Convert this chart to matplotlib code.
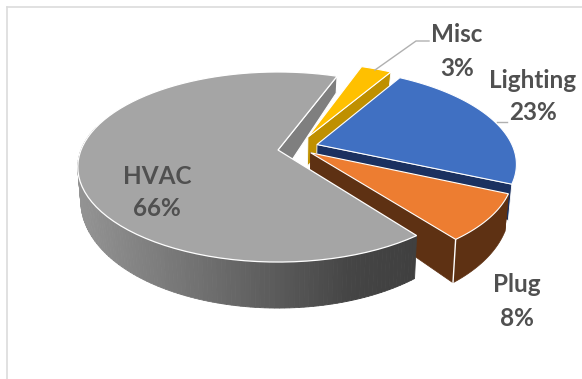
import numpy as np
import matplotlib
matplotlib.use("Agg")
import matplotlib.pyplot as plt
from matplotlib.patches import Polygon

labels = ["HVAC", "Plug", "Lighting", "Misc"]
shares = [66, 8, 23, 3]

# pie geometry, in pixels
x0, y0 = 278.0, 150.0
ax_u, ax_v = 197.0, 92.0
tilt = 0.179
start_angle = 69.5
explode = [(0.0, 0.0), (0.165, -0.03), (0.2, 0.06), (0.156, 0.145)]

top_colors = ["#a5a5a5", "#ed7d31", "#4070c2", "#ffc000"]
side_colors = ["#7f7f7f", "#5e3113", "#1b3160", "#bf9000"]
text_color = "#505050"
label_pos = [(157, 176), (517, 285), (533, 80), (457, 35)]
line_gap = 33

plt.rcParams["font.family"] = ["Lato", "DejaVu Sans"]

def project(u, v):
    w = 1 + tilt * v
    return x0 + ax_u * u / w, y0 - ax_v * v / w

def drop(x, y, v):
    # extruded copy of a top point, deeper towards the viewer
    return x0 + (x - x0) * 0.985, y + 31 - 15 * v

def arc_uv(a0, a1, off, n=80):
    t = np.radians(np.linspace(a0, a1, n))
    return np.cos(t) + off[0], np.sin(t) + off[1]

def top_outline(a0, a1, off):
    u, v = arc_uv(a0, a1, off)
    x, y = project(np.r_[off[0], u], np.r_[off[1], v])
    return np.column_stack([x, y])

def edge_face(a, off):
    # flat cut face running from the centre of a slice to its rim
    t = np.radians(a)
    u = np.array([off[0], np.cos(t) + off[0]])
    v = np.array([off[1], np.sin(t) + off[1]])
    x, y = project(u, v)
    bx, by = drop(x, y, v)
    return np.column_stack([np.r_[x, bx[::-1]], np.r_[y, by[::-1]]])

def rim_face(a0, a1, off):
    u, v = arc_uv(a0, a1, off)
    x, y = project(u, v)
    bx, by = drop(x, y, v)
    return np.column_stack([np.r_[x, bx[::-1]], np.r_[y, by[::-1]]])

fig = plt.figure(figsize=(5.82, 3.79), dpi=100)
ax = fig.add_axes([0, 0, 1, 1])
ax.set_xlim(0, 582)
ax.set_ylim(379, 0)
ax.axis("off")

# chart frame
ax.plot([6.5, 582], [6.5, 6.5], color="#dcdcdc", lw=1.2, zorder=1)
ax.plot([6.5, 6.5], [6.5, 379], color="#dcdcdc", lw=1.2, zorder=1)

edges = start_angle + np.r_[0, np.cumsum(shares)] * 3.6
z = 2

# back cut face of HVAC goes under everything
ax.add_patch(Polygon(edge_face(edges[0], explode[0]), fc=side_colors[0], ec="white", lw=0.8, zorder=z))

# Misc, Lighting
for i in [3, 2]:
    z += 1
    ax.add_patch(Polygon(edge_face(edges[i], explode[i]), fc=side_colors[i], ec="white", lw=0.6, zorder=z))
    z += 1
    ax.add_patch(Polygon(top_outline(edges[i], edges[i + 1], explode[i]), fc=top_colors[i], ec="white", lw=0.8, zorder=z))

# Plug with its rim and cut face
z += 1
plug_color = side_colors[1]
ax.add_patch(Polygon(edge_face(edges[2], explode[1]), fc=plug_color, ec=plug_color, lw=0.5, zorder=z))
ax.add_patch(Polygon(rim_face(edges[1], edges[2], explode[1]), fc=plug_color, ec=plug_color, lw=0.5, zorder=z))
ax.add_patch(Polygon(edge_face(edges[1], explode[1]), fc=plug_color, ec=plug_color, lw=0.5, zorder=z))
z += 1
# light seam down the corner of the slice
seam = edge_face(edges[1], explode[1])
ax.plot([seam[1, 0], seam[2, 0]], [seam[1, 1], seam[2, 1]], color="white", lw=1, zorder=z)
ax.add_patch(Polygon(top_outline(edges[1], edges[2], explode[1]), fc=top_colors[1], ec="white", lw=0.8, zorder=z))

# HVAC rim, shaded left to right in thin strips
z += 1
steps = np.linspace(165, edges[1], 121)
for a0, a1 in zip(steps[:-1], steps[1:]):
    face = rim_face(a0, a1, explode[0])
    shade = str(np.interp(face[:, 0].mean(), [80, 350, 413], [0.58, 0.27, 0.25]))
    ax.add_patch(Polygon(face, fc=shade, ec=shade, lw=0.6, zorder=z))
z += 1
ax.add_patch(Polygon(top_outline(edges[0], edges[1], explode[0]), fc=top_colors[0], ec="white", lw=0.9, zorder=z))

# leader lines
ax.plot([375, 416, 429], [70, 41, 41], color="#b0b0b0", lw=1, zorder=z + 1)
ax.plot([497, 507], [122, 122], color="#b0b0b0", lw=1, zorder=z + 1)

for name, value, (tx, ty) in zip(labels, shares, label_pos):
    ax.text(tx, ty, name, ha="center", va="center", fontsize=17.5, fontweight="bold", color=text_color, zorder=z + 2)
    ax.text(tx, ty + line_gap, "%d%%" % value, ha="center", va="center", fontsize=17.5, fontweight="bold", color=text_color, zorder=z + 2)

fig.savefig("out.png", dpi=100)
